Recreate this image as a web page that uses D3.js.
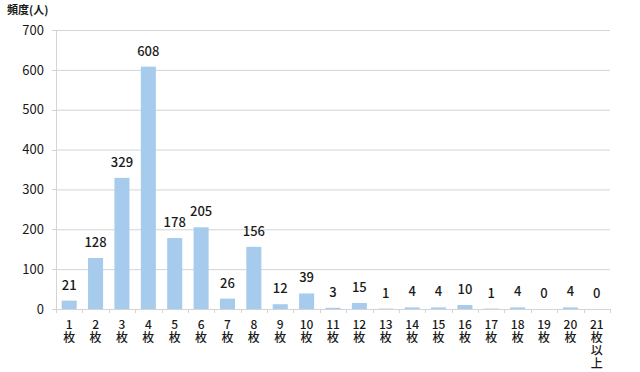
<!DOCTYPE html>
<meta charset="utf-8">
<style>
body { margin: 0; background: #fff; }
text { font-family: "Noto Sans CJK JP", "Noto Sans", sans-serif; fill: #1a1a1a; }
.bar { fill: #a6cbec; }
.grid line { stroke: #d4d4d4; }
.grid path { display: none; }
</style>
<body>
<script src="https://d3js.org/d3.v7.min.js"></script>
<script>
var categories = ["1", "2", "3", "4", "5", "6", "7", "8", "9", "10", "11", "12", "13", "14", "15", "16", "17", "18", "19", "20", "21"];
var catSuffix = ["枚", "枚", "枚", "枚", "枚", "枚", "枚", "枚", "枚", "枚", "枚", "枚", "枚", "枚", "枚", "枚", "枚", "枚", "枚", "枚", "枚以上"];
var counts = [21, 128, 329, 608, 178, 205, 26, 156, 12, 39, 3, 15, 1, 4, 4, 10, 1, 4, 0, 4, 0];
var yTicks = [0, 100, 200, 300, 400, 500, 600, 700];
var yTitle = "頻度(人)";

var w = 640, h = 372,
    margin = {top: 30, right: 30, bottom: 63, left: 56},
    width = w - margin.left - margin.right,
    height = h - margin.top - margin.bottom;

var svg = d3.select("body").append("svg").attr("width", w).attr("height", h);
var g = svg.append("g").attr("transform", "translate(" + margin.left + "," + margin.top + ")");

var x = d3.scaleBand().domain(categories).range([0, width]).paddingInner(0.43).paddingOuter(0.215),
    y = d3.scaleLinear().domain([0, 700]).range([height, 0]);
var step = x.step();

// gridlines
g.append("g")
    .attr("class", "grid")
    .call(d3.axisLeft(y).tickValues(yTicks).tickSize(-width).tickFormat(""));

// y axis line + ticks
g.append("line").attr("x1", 0.5).attr("x2", 0.5).attr("y1", 0).attr("y2", height).attr("stroke", "#d4d4d4");
g.selectAll(".ytick").data(yTicks).enter().append("line")
    .attr("x1", -4).attr("x2", 0)
    .attr("y1", function(d) { return Math.round(y(d)) + 0.5; })
    .attr("y2", function(d) { return Math.round(y(d)) + 0.5; })
    .attr("stroke", "#d4d4d4");
g.selectAll(".ylab").data(yTicks).enter().append("text")
    .attr("x", -12).attr("y", function(d) { return y(d); })
    .attr("dy", "0.36em").attr("text-anchor", "end")
    .style("font-size", "13px")
    .text(function(d) { return d; });

// x axis ticks between categories
var xt = d3.range(0, categories.length + 1);
g.selectAll(".xtick").data(xt).enter().append("line")
    .attr("x1", function(d) { return Math.round(d * step) + 0.5; })
    .attr("x2", function(d) { return Math.round(d * step) + 0.5; })
    .attr("y1", height).attr("y2", height + 4)
    .attr("stroke", "#d4d4d4");

// bars
g.selectAll(".bar").data(counts).enter().append("rect")
    .attr("class", "bar")
    .attr("x", function(d, i) { return x(categories[i]); })
    .attr("y", function(d) { return y(d); })
    .attr("width", x.bandwidth())
    .attr("height", function(d) { return height - y(d); });

// baseline
g.append("line").attr("x1", 0).attr("x2", width).attr("y1", height + 0.5).attr("y2", height + 0.5).attr("stroke", "#d4d4d4");

// value labels
g.selectAll(".val").data(counts).enter().append("text")
    .attr("x", function(d, i) { return x(categories[i]) + x.bandwidth() / 2; })
    .attr("y", function(d) { return y(d) - 11; })
    .attr("text-anchor", "middle")
    .style("font-size", "13px").style("font-weight", "500")
    .text(function(d) { return d; });

// category labels, one text per line
categories.forEach(function(c, i) {
  var cx = x(c) + x.bandwidth() / 2;
  var lines = [c].concat(catSuffix[i].split(""));
  lines.forEach(function(s, k) {
    g.append("text")
        .attr("x", cx)
        .attr("y", height + 20 + k * 13)
        .attr("text-anchor", "middle")
        .style("font-size", "12px").style("font-weight", "500")
        .text(s);
  });
});

// title
svg.append("text").attr("x", 7).attr("y", 14)
    .style("font-size", "11px").style("font-weight", "700")
    .text(yTitle);
</script>
</body>
